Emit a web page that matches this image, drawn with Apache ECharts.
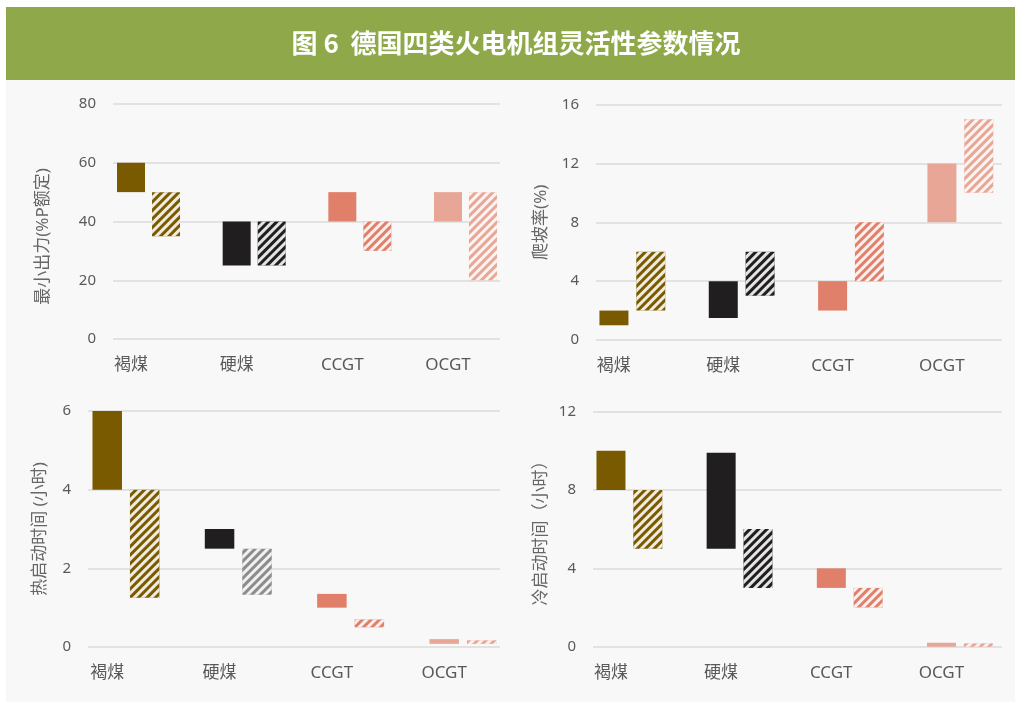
<!DOCTYPE html>
<html>
<head>
<meta charset="utf-8">
<title>德国四类火电机组灵活性参数情况</title>
<script src="https://cdn.jsdelivr.net/npm/echarts@6/dist/echarts.min.js"></script>
<style>
  html, body { margin: 0; padding: 0; background: #ffffff; }
  #chart { width: 1015px; height: 702px; }
</style>
</head>
<body>
<div id="chart"></div>
<script>
// 机组类型
var categories = ['褐煤', '硬煤', 'CCGT', 'OCGT']

// 最小出力 (%P额定)：当前 / 潜力，每根柱子的下限和上限
var minLoadNowLow = [50, 25, 40, 40]
var minLoadNowHigh = [60, 40, 50, 50]
var minLoadPotLow = [35, 25, 30, 20]
var minLoadPotHigh = [50, 40, 40, 50]

// 爬坡率 (%)
var rampNowLow = [1, 1.5, 2, 8]
var rampNowHigh = [2, 4, 4, 12]
var rampPotLow = [2, 3, 4, 10]
var rampPotHigh = [6, 6, 8, 15]

// 热启动时间 (小时)
var hotNowLow = [4, 2.5, 1, 0.08]
var hotNowHigh = [6, 3, 1.35, 0.2]
var hotPotLow = [1.25, 1.33, 0.5, 0.08]
var hotPotHigh = [4, 2.5, 0.7, 0.17]

// 冷启动时间 (小时)
var coldNowLow = [8, 5, 3, 0]
var coldNowHigh = [10, 9.9, 4, 0.2]
var coldPotLow = [5, 3, 2, 0]
var coldPotHigh = [8, 6, 3, 0.17]

// 各面板纵轴刻度
var minLoadTicks = [0, 20, 40, 60, 80]
var rampTicks = [0, 4, 8, 12, 16]
var hotTicks = [0, 2, 4, 6]
var coldTicks = [0, 4, 8, 12]

// 颜色
var typeColors = ['#7a5a00', '#201e1e', '#e0806a', '#e8a696']
var hotPotColors = ['#7a5a00', '#8c8c8c', '#e0806a', '#e8a696']

var labelFont = 'Noto Sans, Noto Sans CJK SC, sans-serif'

// 潜力柱子用的斜线花纹
var stripes = {
  symbol: 'rect',
  symbolSize: 1,
  dashArrayX: [1, 0],
  dashArrayY: [2.6, 2.6],
  rotation: -Math.PI / 4,
  color: 'rgba(255, 255, 255, 0.88)'
}

var grids = []
var xAxes = []
var yAxes = []
var series = []

// 画一个面板：第一个网格放柱子，第二个网格放刻度和横线
function addPanel (p) {
  var gi = grids.length
  grids.push({ left: p.left, width: p.width, top: p.top, height: p.height })
  grids.push({ left: p.lineLeft, width: p.lineWidth, top: p.top, height: p.height })

  var ticks = p.ticks
  var min = ticks[0]
  var max = ticks[ticks.length - 1]
  var interval = ticks[1] - ticks[0]

  xAxes.push({
    type: 'category',
    gridIndex: gi,
    data: categories,
    axisLine: { show: false },
    axisTick: { show: false },
    axisLabel: {
      color: '#595959',
      fontSize: 17,
      fontFamily: labelFont,
      margin: 18,
      padding: [0, p.labelShift * 2, 0, 0]
    }
  })
  xAxes.push({ type: 'value', gridIndex: gi + 1, show: false, min: 0, max: 1 })

  yAxes.push({ type: 'value', gridIndex: gi, min: min, max: max, interval: interval, show: false })
  yAxes.push({
    type: 'value',
    gridIndex: gi + 1,
    min: min,
    max: max,
    interval: interval,
    name: p.name,
    nameLocation: 'middle',
    nameGap: p.nameGap,
    nameTextStyle: {
      color: '#666',
      fontSize: 17,
      fontFamily: labelFont,
      padding: p.namePad || 0
    },
    axisLine: { show: false },
    axisTick: { show: false },
    axisLabel: { color: '#595959', fontSize: 15, fontFamily: labelFont, margin: 17 },
    splitLine: { lineStyle: { color: '#e2e2e2', width: 2 } }
  })

  var xi = xAxes.length - 2
  var yi = yAxes.length - 2

  function span (low, high) {
    return high.map(function (v, i) { return +(v - low[i]).toFixed(3) })
  }

  function coloured (vals, colors, hatched) {
    return vals.map(function (v, i) {
      var st = { color: colors[i] }
      if (hatched) st.decal = stripes
      return { value: v, itemStyle: st }
    })
  }

  var base = {
    type: 'bar',
    xAxisIndex: xi,
    yAxisIndex: yi,
    barWidth: p.barWidth,
    barGap: p.barGap,
    silent: true,
    itemStyle: { color: 'transparent' },
    emphasis: { disabled: true }
  }

  series.push(Object.assign({}, base, { stack: 'now' + gi, data: p.nowLow }))
  series.push(Object.assign({}, base, { stack: 'now' + gi, data: coloured(span(p.nowLow, p.nowHigh), typeColors, false) }))
  series.push(Object.assign({}, base, { stack: 'pot' + gi, data: p.potLow }))
  series.push(Object.assign({}, base, { stack: 'pot' + gi, data: coloured(span(p.potLow, p.potHigh), p.potColors || typeColors, true) }))
}

addPanel({
  name: '最小出力(%P额定)',
  ticks: minLoadTicks,
  left: 95.7, width: 422.6, lineLeft: 113, lineWidth: 387, top: 104, height: 235,
  barWidth: 28, barGap: '25%', labelShift: 17.5, nameGap: 61, namePad: [0, 30, 0, 0],
  nowLow: minLoadNowLow, nowHigh: minLoadNowHigh, potLow: minLoadPotLow, potHigh: minLoadPotHigh
})
addPanel({
  name: '爬坡率(%)',
  ticks: rampTicks,
  left: 577.7, width: 442.6, lineLeft: 596, lineWidth: 406, top: 104.5, height: 235.5,
  barWidth: 29, barGap: '27%', labelShift: 18.5, nameGap: 46,
  nowLow: rampNowLow, nowHigh: rampNowHigh, potLow: rampPotLow, potHigh: rampPotHigh
})
addPanel({
  name: '热启动时间 (小时)',
  ticks: hotTicks,
  left: 69.8, width: 449.3, lineLeft: 88, lineWidth: 412, top: 411, height: 236,
  barWidth: 29.5, barGap: '27%', labelShift: 18.75, nameGap: 39,
  nowLow: hotNowLow, nowHigh: hotNowHigh, potLow: hotPotLow, potHigh: hotPotHigh, potColors: hotPotColors
})
addPanel({
  name: '冷启动时间（小时）',
  ticks: coldTicks,
  left: 574.3, width: 446, lineLeft: 593, lineWidth: 409, top: 411.5, height: 235.2,
  barWidth: 29, barGap: '27%', labelShift: 18.5, nameGap: 43,
  nowLow: coldNowLow, nowHigh: coldNowHigh, potLow: coldPotLow, potHigh: coldPotHigh
})

var myChart = echarts.init(document.getElementById('chart'))
myChart.setOption({
  animation: false,
  title: {
    text: '图 6  德国四类火电机组灵活性参数情况',
    left: 516,
    textAlign: 'center',
    top: 30,
    padding: 0,
    textStyle: {
      color: '#ffffff',
      fontSize: 26,
      fontWeight: 'bold',
      fontFamily: 'Noto Sans CJK SC, sans-serif'
    }
  },
  graphic: [
    { type: 'rect', z: -10, shape: { x: 6, y: 80, width: 1009, height: 622 }, style: { fill: '#f8f8f8' } },
    { type: 'rect', z: -10, shape: { x: 6, y: 7, width: 1009, height: 73 }, style: { fill: '#8fa94a' } }
  ],
  grid: grids,
  xAxis: xAxes,
  yAxis: yAxes,
  series: series
})
</script>
</body>
</html>
